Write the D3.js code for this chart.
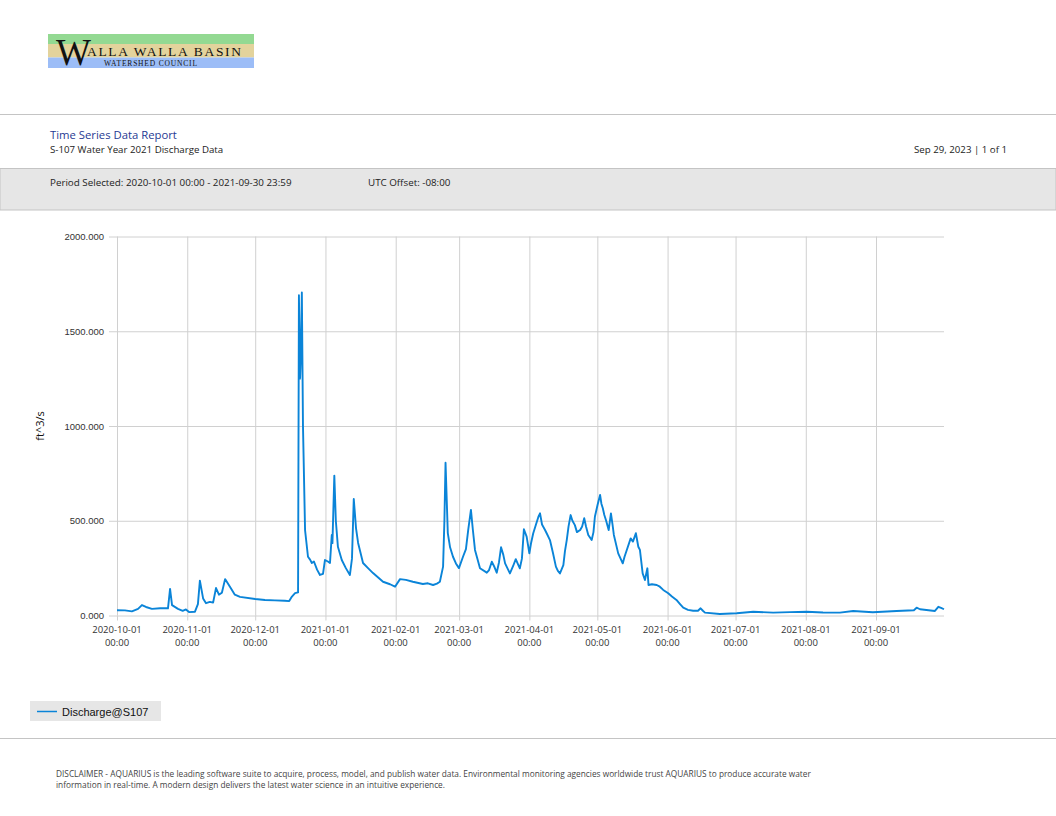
<!DOCTYPE html>
<html>
<head>
<meta charset="utf-8">
<script src="https://cdn.jsdelivr.net/npm/d3@7"></script>
<style>
  body { margin: 0; background: #fff; }
  svg { display: block; font-family: 'Open Sans', 'Liberation Sans', sans-serif; }
  .grid line { stroke: #d0d0d0; stroke-width: 1; }
  .axis text { fill: #333; font-size: 9.5px; }
</style>
</head>
<body>
<script>
// S-107 discharge (ft^3/s)
const times = [
  '2020-10-01 00:00', '2020-10-04 12:00', '2020-10-07 14:00', '2020-10-10 07:00', '2020-10-12 00:00',
  '2020-10-13 19:00', '2020-10-16 10:00', '2020-10-20 00:00', '2020-10-23 12:00', '2020-10-24 10:00',
  '2020-10-25 07:00', '2020-10-27 22:00', '2020-10-30 00:00', '2020-10-31 10:00', '2020-11-01 19:00',
  '2020-11-04 10:00', '2020-11-05 17:00', '2020-11-06 14:00', '2020-11-08 00:00', '2020-11-09 07:00',
  '2020-11-11 00:00', '2020-11-12 10:00', '2020-11-13 17:00', '2020-11-15 00:00', '2020-11-16 07:00',
  '2020-11-17 17:00', '2020-11-19 22:00', '2020-11-22 00:00', '2020-11-24 07:00', '2020-12-01 00:00',
  '2020-12-05 07:00', '2020-12-09 17:00', '2020-12-14 02:00', '2020-12-16 00:00', '2020-12-17 05:00',
  '2020-12-18 14:00', '2020-12-19 22:00', '2020-12-20 07:00', '2020-12-20 19:00', '2020-12-21 05:00',
  '2020-12-21 14:00', '2020-12-22 02:00', '2020-12-23 00:00', '2020-12-24 07:00', '2020-12-25 05:00',
  '2020-12-26 00:00', '2020-12-26 22:00', '2020-12-28 07:00', '2020-12-29 14:00', '2020-12-30 22:00',
  '2020-12-31 19:00', '2021-01-02 02:00', '2021-01-03 00:00', '2021-01-03 19:00', '2021-01-04 02:00',
  '2021-01-04 22:00', '2021-01-05 14:00', '2021-01-06 12:00', '2021-01-08 05:00', '2021-01-10 00:00',
  '2021-01-11 19:00', '2021-01-12 17:00', '2021-01-13 12:00', '2021-01-14 12:00', '2021-01-15 10:00',
  '2021-01-17 14:00', '2021-01-19 19:00', '2021-01-22 00:00', '2021-01-26 10:00', '2021-01-29 12:00',
  '2021-01-31 17:00', '2021-02-02 22:00', '2021-02-05 12:00', '2021-02-08 14:00', '2021-02-13 00:00',
  '2021-02-15 05:00', '2021-02-17 12:00', '2021-02-19 05:00', '2021-02-20 12:00', '2021-02-21 22:00',
  '2021-02-22 12:00', '2021-02-23 00:00', '2021-02-24 00:00', '2021-02-25 00:00', '2021-02-26 07:00',
  '2021-02-27 14:00', '2021-02-28 22:00', '2021-03-02 17:00', '2021-03-04 00:00', '2021-03-05 00:00',
  '2021-03-06 05:00', '2021-03-07 02:00', '2021-03-08 00:00', '2021-03-10 05:00', '2021-03-13 05:00',
  '2021-03-14 05:00', '2021-03-15 10:00', '2021-03-16 10:00', '2021-03-17 14:00', '2021-03-18 14:00',
  '2021-03-19 12:00', '2021-03-20 12:00', '2021-03-21 07:00', '2021-03-23 10:00', '2021-03-24 19:00',
  '2021-03-26 00:00', '2021-03-27 00:00', '2021-03-27 19:00', '2021-03-28 17:00', '2021-03-29 14:00',
  '2021-03-30 19:00', '2021-04-01 00:00', '2021-04-01 17:00', '2021-04-02 17:00', '2021-04-03 22:00',
  '2021-04-05 00:00', '2021-04-05 17:00', '2021-04-06 14:00', '2021-04-07 22:00', '2021-04-08 19:00',
  '2021-04-10 02:00', '2021-04-11 10:00', '2021-04-12 17:00', '2021-04-13 14:00', '2021-04-14 12:00',
  '2021-04-16 00:00', '2021-04-16 17:00', '2021-04-17 12:00', '2021-04-18 07:00', '2021-04-19 05:00',
  '2021-04-20 00:00', '2021-04-21 02:00', '2021-04-22 00:00', '2021-04-23 10:00', '2021-04-24 07:00',
  '2021-04-25 05:00', '2021-04-26 00:00', '2021-04-27 00:00', '2021-04-28 12:00', '2021-04-29 07:00',
  '2021-04-29 22:00', '2021-05-01 02:00', '2021-05-02 05:00', '2021-05-02 19:00', '2021-05-03 10:00',
  '2021-05-04 02:00', '2021-05-04 19:00', '2021-05-06 00:00', '2021-05-07 00:00', '2021-05-07 17:00',
  '2021-05-08 07:00', '2021-05-10 05:00', '2021-05-12 05:00', '2021-05-13 00:00', '2021-05-14 00:00',
  '2021-05-15 17:00', '2021-05-16 17:00', '2021-05-18 00:00', '2021-05-19 02:00', '2021-05-19 19:00',
  '2021-05-21 00:00', '2021-05-22 00:00', '2021-05-23 02:00', '2021-05-23 14:00', '2021-05-25 02:00',
  '2021-05-27 05:00', '2021-05-28 14:00', '2021-05-30 02:00', '2021-06-01 07:00', '2021-06-02 22:00',
  '2021-06-04 22:00', '2021-06-06 12:00', '2021-06-07 22:00', '2021-06-10 00:00', '2021-06-12 07:00',
  '2021-06-14 10:00', '2021-06-15 14:00', '2021-06-16 14:00', '2021-06-17 12:00', '2021-06-24 02:00',
  '2021-07-01 12:00', '2021-07-08 19:00', '2021-07-17 14:00', '2021-07-25 00:00', '2021-08-01 10:00',
  '2021-08-08 14:00', '2021-08-16 02:00', '2021-08-21 22:00', '2021-08-30 14:00', '2021-09-10 02:00',
  '2021-09-17 17:00', '2021-09-18 22:00', '2021-09-20 10:00', '2021-09-27 00:00', '2021-09-28 12:00',
  '2021-09-29 17:00', '2021-09-30 23:59'
];

const discharge = [
  28, 27, 22, 35, 55, 45, 35, 38, 38, 140,
  55, 35, 25, 32, 18, 20, 60, 184, 90, 65,
  72, 68, 145, 110, 120, 192, 150, 110, 98, 87,
  82, 80, 78, 76, 100, 118, 122, 1690, 1250, 1400,
  1705, 1000, 451, 310, 295, 277, 285, 242, 214, 220,
  293, 285, 277, 425, 382, 738, 500, 363, 293, 250,
  214, 300, 615, 460, 383, 277, 250, 224, 178, 165,
  152, 192, 188, 178, 166, 170, 161, 168, 178, 258,
  500, 806, 435, 360, 310, 275, 250, 310, 350, 451,
  557, 450, 346, 249, 226, 240, 284, 260, 226, 280,
  360, 320, 275, 222, 260, 297, 270, 249, 300, 455,
  416, 328, 380, 434, 480, 521, 539, 480, 451, 430,
  398, 330, 258, 235, 222, 266, 340, 398, 470, 530,
  500, 477, 440, 451, 470, 513, 470, 425, 398, 440,
  521, 583, 636, 590, 566, 530, 504, 451, 539, 480,
  425, 328, 275, 310, 346, 407, 390, 434, 363, 346,
  222, 187, 249, 161, 165, 161, 152, 135, 117, 100,
  82, 60, 41, 30, 25, 25, 38, 25, 15, 8,
  12, 20, 15, 18, 20, 16, 15, 24, 17, 24,
  28, 41, 33, 24, 46, 40, 33
];

const yTicks = [0, 500, 1000, 1500, 2000];
const xTicks = ['2020-10-01', '2020-11-01', '2020-12-01', '2021-01-01', '2021-02-01', '2021-03-01',
                '2021-04-01', '2021-05-01', '2021-06-01', '2021-07-01', '2021-08-01', '2021-09-01'];
const period = ['2020-10-01 00:00', '2021-09-30 23:59'];
const seriesName = 'Discharge@S107';

const width = 1056, height = 816;
const plot = { left: 117, right: 944, top: 236.5, bottom: 615.5 };
const lineColor = '#0a84d8';

const parseTime = d3.timeParse('%Y-%m-%d %H:%M');
const parseDay = d3.timeParse('%Y-%m-%d');
const data = times.map((t, i) => ({ t: parseTime(t), v: discharge[i] }));

const svg = d3.select('body')
  .append('svg')
  .attr('width', width)
  .attr('height', height);

// ---- logo ----
const logo = svg.append('g').attr('transform', 'translate(48, 34)');
logo.append('rect').attr('width', 206).attr('height', 10).attr('fill', '#93d992');
logo.append('rect').attr('y', 10).attr('width', 206).attr('height', 13.5).attr('fill', '#e3d39c');
logo.append('rect').attr('y', 23.5).attr('width', 206).attr('height', 10.5).attr('fill', '#9cbdf7');
logo.append('text')
  .attr('x', 8).attr('y', 31)
  .style('font-family', "'Liberation Serif', 'DejaVu Serif', serif")
  .style('font-size', '37px')
  .attr('fill', '#111')
  .text('W');
logo.append('text')
  .attr('x', 39).attr('y', 21.5)
  .style('font-family', "'Liberation Serif', 'DejaVu Serif', serif")
  .style('font-size', '13.5px')
  .attr('textLength', 154)
  .attr('fill', '#111')
  .text('ALLA WALLA BASIN');
logo.append('text')
  .attr('x', 56).attr('y', 31.5)
  .style('font-family', "'Liberation Serif', 'DejaVu Serif', serif")
  .style('font-size', '7.5px')
  .attr('textLength', 93)
  .attr('fill', '#111')
  .text('WATERSHED COUNCIL');

// ---- header ----
svg.append('line').attr('x1', 0).attr('x2', width).attr('y1', 114.5).attr('y2', 114.5)
  .attr('stroke', '#c4c4c4');

svg.append('text')
  .attr('x', 50).attr('y', 139)
  .style('font-size', '11.3px')
  .attr('fill', '#1f3a93')
  .text('Time Series Data Report');

svg.append('text')
  .attr('x', 50).attr('y', 153)
  .style('font-size', '9.7px')
  .attr('fill', '#222')
  .text('S-107 Water Year 2021 Discharge Data');

svg.append('text')
  .attr('x', 1007).attr('y', 153)
  .attr('text-anchor', 'end')
  .style('font-size', '9.7px')
  .attr('fill', '#222')
  .text('Sep 29, 2023 | 1 of 1');

svg.append('rect')
  .attr('x', 0).attr('y', 168.5).attr('width', width).attr('height', 41.5)
  .attr('fill', '#e6e6e6').attr('stroke', '#c4c4c4');

svg.append('text')
  .attr('x', 50).attr('y', 186)
  .style('font-size', '9.8px')
  .attr('fill', '#222')
  .text('Period Selected: ' + period[0] + ' - ' + period[1]);

svg.append('text')
  .attr('x', 368).attr('y', 186)
  .style('font-size', '9.8px')
  .attr('fill', '#222')
  .text('UTC Offset: -08:00');

// ---- chart ----
const xScale = d3.scaleTime()
  .domain([parseTime(period[0]), parseTime(period[1])])
  .range([plot.left, plot.right]);

const yScale = d3.scaleLinear()
  .domain([0, 2000])
  .range([plot.bottom, plot.top]);

const tickDates = xTicks.map(parseDay);

// horizontal grid, running left past the axis as tick marks
svg.append('g')
  .attr('class', 'axis grid')
  .attr('transform', 'translate(' + plot.right + ', 0)')
  .call(d3.axisRight(yScale).tickValues(yTicks).tickSize(-(plot.right - plot.left) - 8).tickFormat(''))
  .call(g => g.select('.domain').remove());

svg.append('g')
  .attr('class', 'axis')
  .attr('transform', 'translate(' + (plot.left - 8) + ', 0)')
  .call(d3.axisLeft(yScale).tickValues(yTicks).tickSize(0).tickPadding(5).tickFormat(d3.format('.3f')))
  .call(g => g.select('.domain').remove());

// vertical grid
svg.append('g')
  .attr('class', 'grid')
  .attr('transform', 'translate(0, ' + plot.bottom + ')')
  .call(d3.axisBottom(xScale).tickValues(tickDates).tickSize(-(plot.bottom - plot.top)).tickFormat(''))
  .call(g => g.select('.domain').remove());

// x tick marks below axis
svg.append('g')
  .attr('class', 'grid')
  .attr('transform', 'translate(0, ' + plot.bottom + ')')
  .call(d3.axisBottom(xScale).tickValues(tickDates).tickSize(5).tickFormat(''))
  .call(g => g.select('.domain').remove());

const xLabels = svg.append('g').attr('class', 'axis');
xLabels.selectAll('text.date')
  .data(tickDates)
  .enter()
  .append('text')
  .attr('class', 'date')
  .attr('x', d => xScale(d))
  .attr('y', 633)
  .attr('text-anchor', 'middle')
  .text(d => d3.timeFormat('%Y-%m-%d')(d));
xLabels.selectAll('text.time')
  .data(tickDates)
  .enter()
  .append('text')
  .attr('class', 'time')
  .attr('x', d => xScale(d))
  .attr('y', 646)
  .attr('text-anchor', 'middle')
  .text(d => d3.timeFormat('%H:%M')(d));

svg.append('text')
  .attr('transform', 'rotate(-90)')
  .attr('x', -426)
  .attr('y', 44)
  .attr('text-anchor', 'middle')
  .style('font-size', '11px')
  .attr('fill', '#111')
  .text('ft^3/s');

const line = d3.line()
  .x(d => xScale(d.t))
  .y(d => yScale(d.v));

svg.append('path')
  .datum(data)
  .attr('d', line)
  .attr('fill', 'none')
  .attr('stroke', lineColor)
  .attr('stroke-width', 1.9)
  .attr('stroke-linejoin', 'round');

// ---- legend ----
const legend = svg.append('g').attr('transform', 'translate(30, 701)');
legend.append('rect').attr('width', 131).attr('height', 20).attr('fill', '#e6e6e6');
legend.append('line').attr('x1', 7).attr('x2', 27).attr('y1', 10.5).attr('y2', 10.5)
  .attr('stroke', lineColor).attr('stroke-width', 1.5);
legend.append('text')
  .attr('x', 32).attr('y', 14.5)
  .style('font-family', "'Liberation Sans', Arial, sans-serif")
  .style('font-size', '11px')
  .attr('fill', '#111')
  .text(seriesName);

// ---- footer ----
svg.append('line').attr('x1', 0).attr('x2', width).attr('y1', 738.5).attr('y2', 738.5)
  .attr('stroke', '#c4c4c4');

const disclaimer = [
  'DISCLAIMER - AQUARIUS is the leading software suite to acquire, process, model, and publish water data. Environmental monitoring agencies worldwide trust AQUARIUS to produce accurate water',
  'information in real-time. A modern design delivers the latest water science in an intuitive experience.'
];
svg.selectAll('text.disclaimer')
  .data(disclaimer)
  .enter()
  .append('text')
  .attr('class', 'disclaimer')
  .attr('x', 56)
  .attr('y', (d, i) => 777 + i * 11)
  .style('font-size', '8.3px')
  .attr('fill', '#444')
  .text(d => d);
</script>
</body>
</html>
